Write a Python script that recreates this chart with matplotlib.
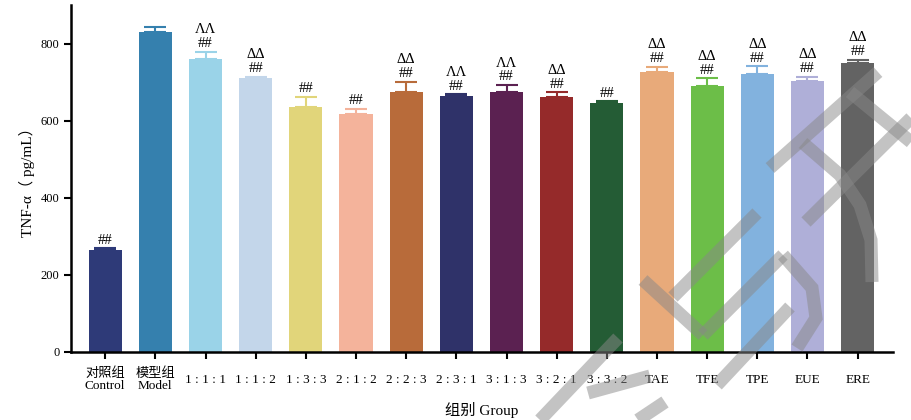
import numpy as np
import matplotlib.pyplot as plt
from matplotlib.lines import Line2D

plt.rcParams['font.family'] = ['Liberation Serif', 'Noto Sans CJK SC']

groups = ["对照组\nControl", "模型组\nModel", "1 : 1 : 1", "1 : 1 : 2", "1 : 3 : 3", "2 : 1 : 2",
          "2 : 2 : 3", "2 : 3 : 1", "3 : 1 : 3", "3 : 2 : 1", "3 : 3 : 2", "TAE", "TFE", "TPE", "EUE", "ERE"]
tnf_mean = [265, 831, 761, 712, 636, 618, 675, 664, 674, 661, 647, 726, 690, 720, 704, 750]
tnf_err = [4, 13, 18, 2, 26, 13, 26, 5, 19, 13, 4, 14, 21, 21, 10, 8]
marks_hash = ["##", "", "##", "##", "##", "##", "##", "##", "##", "##", "##", "##", "##", "##", "##", "##"]
marks_top = ["", "", "ΛΛ", "ΔΔ", "", "", "ΔΔ", "ΛΛ", "ΛΛ", "ΔΔ", "", "ΔΔ", "ΔΔ", "ΔΔ", "ΔΔ", "ΔΔ"]
colors = ["#2E3A78", "#3580AE", "#9AD3E8", "#C3D6EA", "#E1D57A", "#F4B39B", "#B86B3A", "#2F3269",
          "#5B2151", "#952A2A", "#245C35", "#E8AA7A", "#6CBE48", "#82B2DE", "#AFAFD8", "#636363"]

fig = plt.figure(figsize=(9.11, 4.2), dpi=100)
ax = fig.add_axes([0.078, 0.162, 0.902, 0.826])

x = np.arange(len(groups))
ax.bar(x, tnf_mean, width=0.66, color=colors, zorder=2)
for xi, m, e, c in zip(x, tnf_mean, tnf_err, colors):
    ax.errorbar(xi, m, yerr=[[0], [e]], color=c, capsize=8, elinewidth=1.5, capthick=1.5, zorder=1)

for xi, m, e, h, t in zip(x, tnf_mean, tnf_err, marks_hash, marks_top):
    if h:
        ax.annotate(h, (xi, m + e), xytext=(0, 1), textcoords='offset points',
                    ha='center', va='bottom', fontsize=10.5)
    if t:
        ax.annotate(t, (xi, m + e), xytext=(0, 11), textcoords='offset points',
                    ha='center', va='bottom', fontsize=10.5)

ax.set_xlim(-0.68, 15.7)
ax.set_ylim(0, 900)
ax.set_yticks([0, 200, 400, 600, 800])
ax.set_xticks(x)
ax.set_xticklabels(groups, fontsize=9.5, linespacing=1.0, va='center')
ax.tick_params(axis='y', labelsize=9, width=1.5, length=5)
ax.tick_params(axis='x', width=1.5, length=5, pad=15)
for side in ['top', 'right']:
    ax.spines[side].set_visible(False)
for side in ['left', 'bottom']:
    ax.spines[side].set_linewidth(1.8)

ax.set_ylabel("TNF-α（ pg/mL）", fontsize=11)
ax.set_xlabel("组别 Group", fontsize=11, labelpad=7)

# grey logo strokes laid over the figure (pixel coordinates, y from top)
strokes = [
    [(770, 168), (878, 72)],
    [(850, 92), (911, 142)],
    [(803, 143), (840, 175), (860, 205), (871, 240), (872, 282)],
    [(806, 222), (911, 118)],
    [(643, 280), (703, 335)],
    [(673, 297), (757, 213)],
    [(703, 335), (783, 255)],
    [(783, 255), (812, 288), (816, 318), (797, 348)],
    [(717, 385), (790, 307)],
    [(540, 420), (618, 338)],
    [(588, 393), (650, 376)],
    [(638, 420), (665, 402)],
]
W, H = 911, 420
for s in strokes:
    xs = [p[0] / W for p in s]
    ys = [1 - p[1] / H for p in s]
    fig.add_artist(Line2D(xs, ys, transform=fig.transFigure, color='#888888',
                          alpha=0.5, lw=9.4, solid_capstyle='butt',
                          solid_joinstyle='miter', zorder=10))

fig.savefig("out.png", dpi=100)
